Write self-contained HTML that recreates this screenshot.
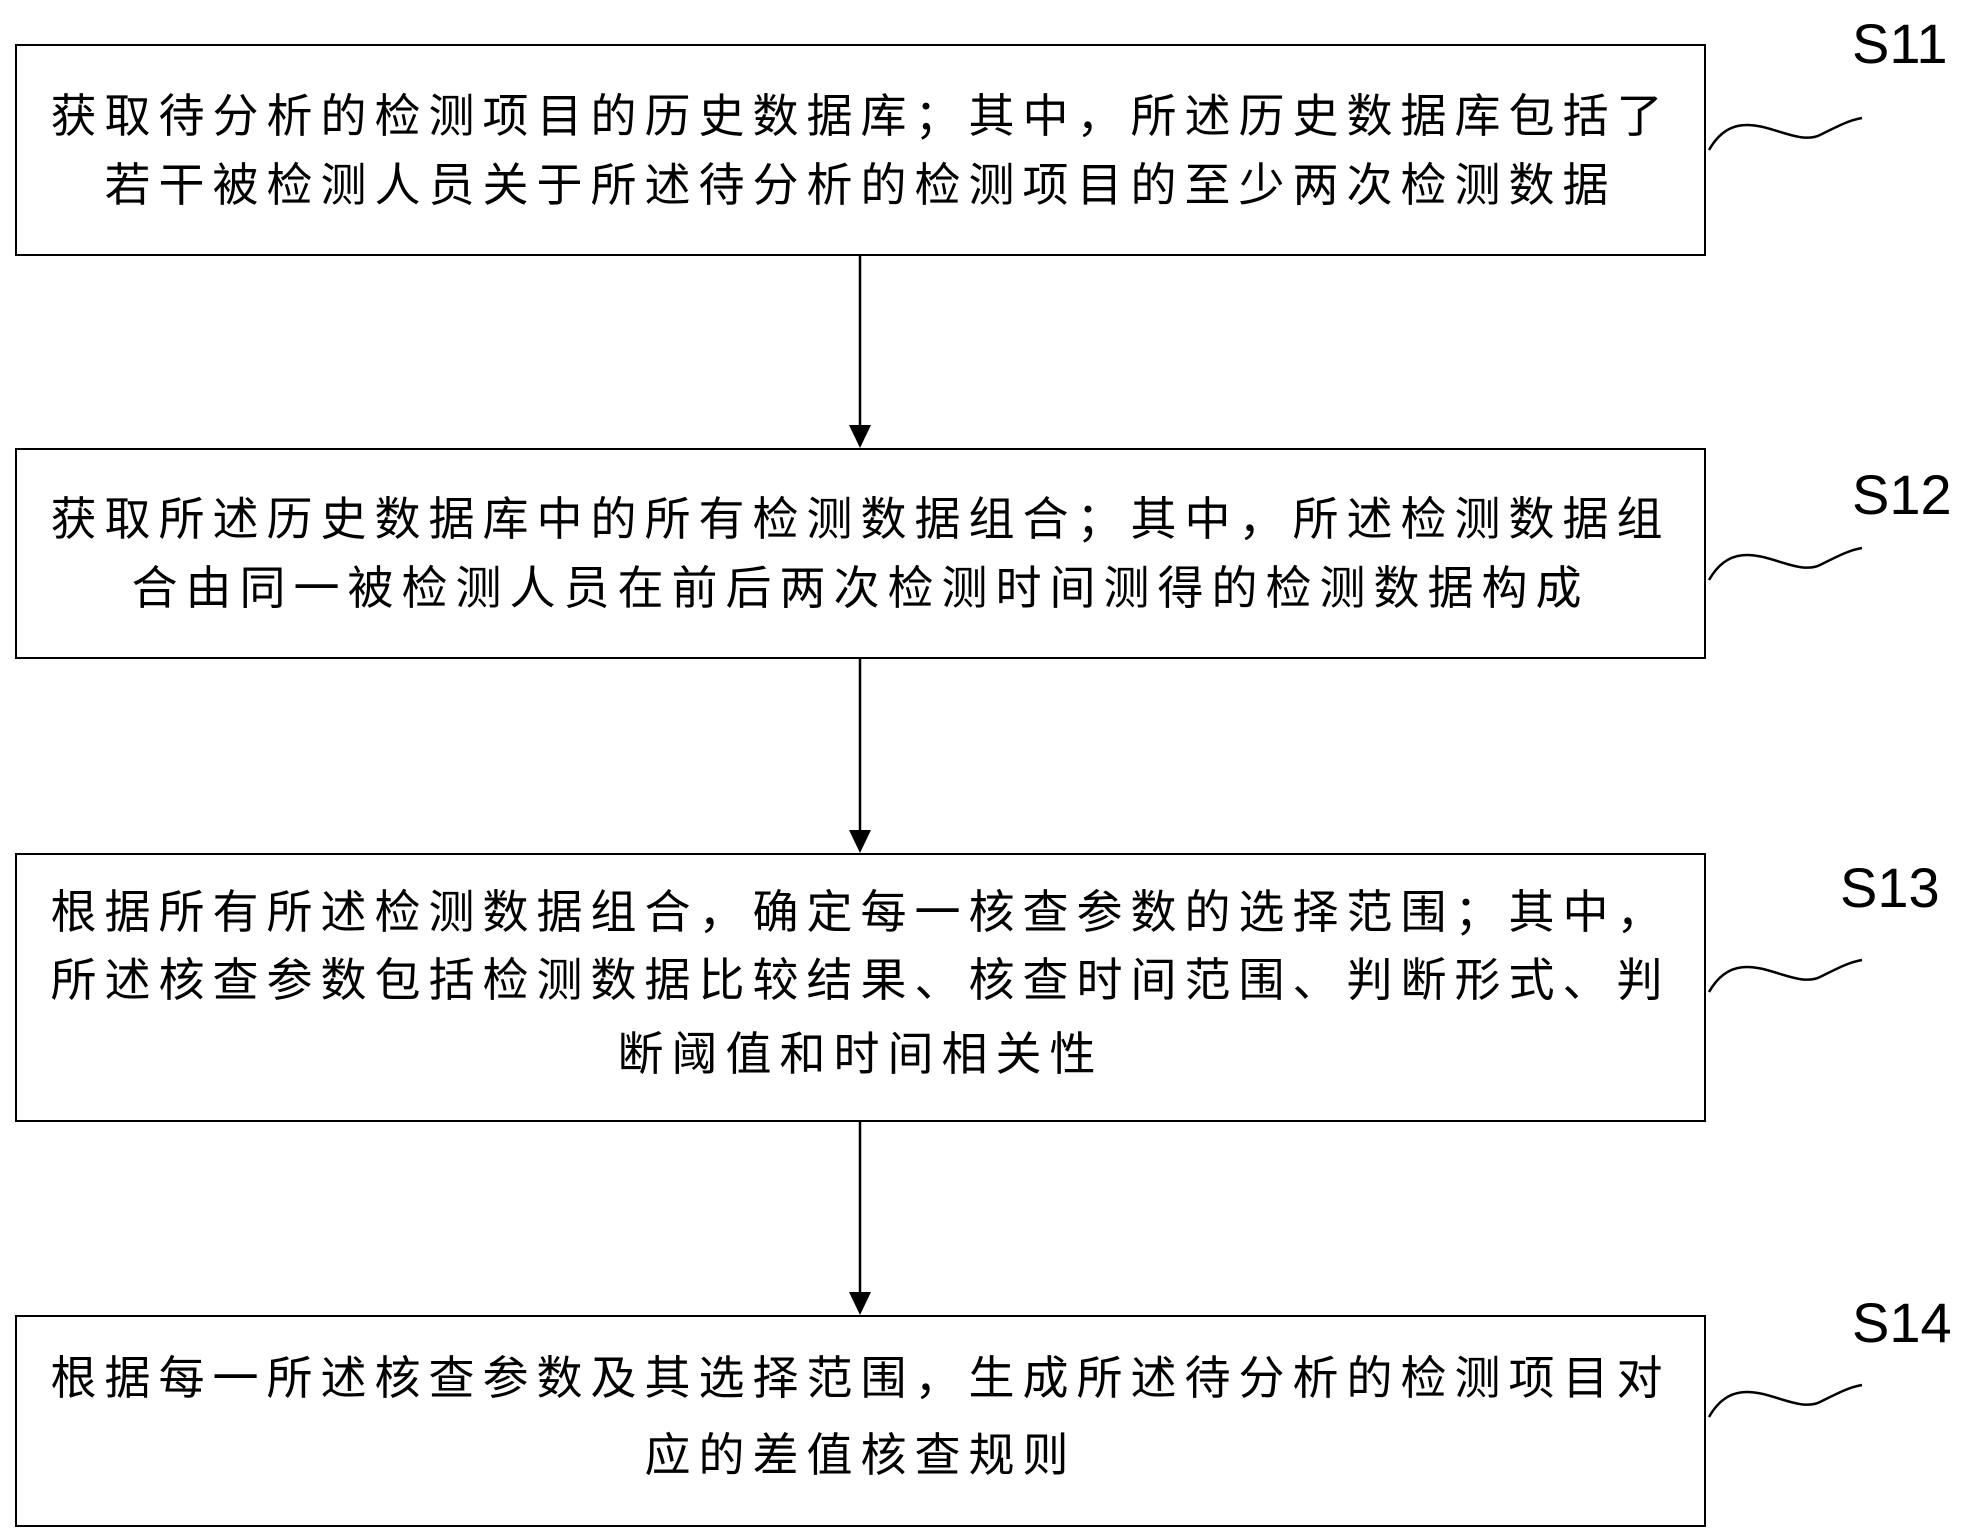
<!DOCTYPE html>
<html><head><meta charset="utf-8"><style>
body{margin:0;width:1962px;height:1539px;background:#fff;position:relative;overflow:hidden;font-family:"Liberation Sans","Noto Sans CJK SC",sans-serif;}
.box{position:absolute;left:15px;width:1691px;border:2px solid #000;box-sizing:border-box;}
.ln{position:absolute;left:0;width:100%;text-align:center;font-size:46px;letter-spacing:8px;line-height:52px;color:#000;font-family:"Liberation Sans","Noto Sans CJK SC",sans-serif;}
.lbl{position:absolute;font-size:56px;color:#000;font-family:"Liberation Sans",sans-serif;line-height:60px;}
</style></head><body>
<div class="box" style="top:44px;height:212px">
<div class="ln" style="top:44px">获取待分析的检测项目的历史数据库；其中，所述历史数据库包括了</div>
<div class="ln" style="top:113px">若干被检测人员关于所述待分析的检测项目的至少两次检测数据</div>
</div>
<div class="box" style="top:448px;height:211px">
<div class="ln" style="top:43px">获取所述历史数据库中的所有检测数据组合；其中，所述检测数据组</div>
<div class="ln" style="top:112px">合由同一被检测人员在前后两次检测时间测得的检测数据构成</div>
</div>
<div class="box" style="top:853px;height:269px">
<div class="ln" style="top:31px">根据所有所述检测数据组合，确定每一核查参数的选择范围；其中，</div>
<div class="ln" style="top:99px">所述核查参数包括检测数据比较结果、核查时间范围、判断形式、判</div>
<div class="ln" style="top:173px">断阈值和时间相关性</div>
</div>
<div class="box" style="top:1315px;height:212px">
<div class="ln" style="top:35px">根据每一所述核查参数及其选择范围，生成所述待分析的检测项目对</div>
<div class="ln" style="top:112px">应的差值核查规则</div>
</div>
<div class="lbl" style="left:1852px;top:14px">S11</div>
<div class="lbl" style="left:1852px;top:465px">S12</div>
<div class="lbl" style="left:1840px;top:858px">S13</div>
<div class="lbl" style="left:1852px;top:1293px">S14</div>
<svg width="1962" height="1539" style="position:absolute;left:0;top:0" fill="none" stroke="#000" stroke-width="2.5">
<line x1="860" y1="256" x2="860" y2="425"/>
<polygon points="849,425 871,425 860,448" fill="#000" stroke="none"/>
<line x1="860" y1="659" x2="860" y2="830"/>
<polygon points="849,830 871,830 860,853" fill="#000" stroke="none"/>
<line x1="860" y1="1122" x2="860" y2="1292"/>
<polygon points="849,1292 871,1292 860,1315" fill="#000" stroke="none"/>
<path d="M1709,150 C1740,95 1790,150 1820,135 C1840,125 1850,120 1862,118"/>
<path d="M1709,580 C1740,525 1790,580 1820,565 C1840,555 1850,550 1862,548"/>
<path d="M1709,992 C1740,937 1790,992 1820,977 C1840,967 1850,962 1862,960"/>
<path d="M1709,1417 C1740,1362 1790,1417 1820,1402 C1840,1392 1850,1387 1862,1385"/>
</svg>
</body></html>
